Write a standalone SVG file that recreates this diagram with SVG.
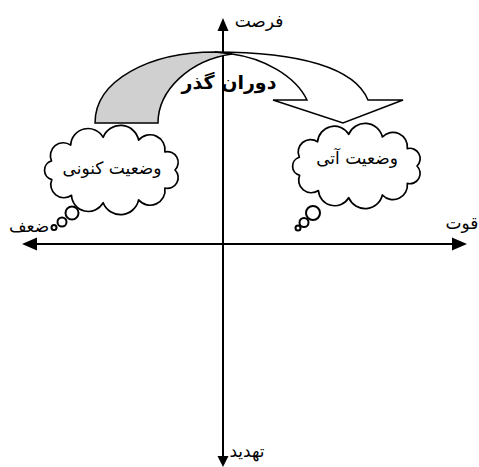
<svg xmlns="http://www.w3.org/2000/svg" width="479" height="467" viewBox="0 0 479 467">
<style>
.ax{stroke:#000;stroke-width:2;fill:none}
.ah{fill:#000;stroke:none}
.cl{fill:#fff;stroke:#000;stroke-width:1.7;stroke-linejoin:round}
.bb{fill:#fff;stroke:#000;stroke-width:2}
.ar{stroke:#000;stroke-width:1.5;stroke-linejoin:miter}
.t{font-family:"DejaVu Sans",sans-serif;font-size:17px;fill:#000;text-anchor:middle}
.tb{font-family:"DejaVu Sans",sans-serif;font-size:19px;font-weight:bold;fill:#000;text-anchor:middle}
</style>
<rect width="479" height="467" fill="#fff"/>
<g id="connectors">
<line class="ax" x1="223" y1="28" x2="223" y2="458"/>
<line class="ax" x1="34" y1="244" x2="455" y2="244"/>
<polygon class="ah" points="223,18 217.5,31 228.5,31"/>
<polygon class="ah" points="223,467 217.5,456 228.5,456"/>
<polygon class="ah" points="22,244 37,237.5 37,250.5"/>
<polygon class="ah" points="467,244 452,237.5 452,250.5"/>
</g>
<g id="transition">
<path class="ar" fill="#fff" d="M215,52 C300,52 355,68 368,100 L403,100 L343,123 L273,100 L307,100 C295,75 262,58 232,54 Z"/>
<path class="ar" fill="#d0d0d0" d="M95,123 C95,80 150,52 215,52 L232,54 C190,60 158,90 158,123 Z"/>
<text class="tb" x="229" y="89">دوران گذر</text>
</g>
<g id="current">
<path class="cl" d="M175,170 A10.7,10.7 0 0 1 164.9,188 A15,15 0 0 1 138.6,199.9 A18.5,18.5 0 0 1 103.2,202.7 A16.9,16.9 0 0 1 71.5,195.3 A13.1,13.1 0 0 1 51.8,179.6 A9.7,9.7 0 0 1 51.5,160.9 A12.9,12.9 0 0 1 70.7,145.1 A17.4,17.4 0 0 1 103.2,137.3 A18.5,18.5 0 0 1 138.6,140.1 A15,15 0 0 1 164.9,152 A10.7,10.7 0 0 1 175,170 Z"/>
<circle class="bb" cx="72" cy="213" r="6.5"/>
<circle class="bb" cx="62" cy="222" r="4.5"/>
<circle class="bb" cx="54" cy="227.5" r="2.5"/>
<text class="t" x="112" y="174">وضعیت کنونی</text>
</g>
<g id="future">
<path class="cl" d="M417,166 A10.3,10.3 0 0 1 407.3,183.4 A14.4,14.4 0 0 1 382.4,195 A17.8,17.8 0 0 1 348.7,197.7 A16.3,16.3 0 0 1 318.4,190.5 A12.6,12.6 0 0 1 299.6,175.3 A9.4,9.4 0 0 1 299.3,157.2 A12.4,12.4 0 0 1 317.6,141.8 A16.8,16.8 0 0 1 348.7,134.3 A17.8,17.8 0 0 1 382.4,137 A14.4,14.4 0 0 1 407.3,148.6 A10.3,10.3 0 0 1 417,166 Z"/>
<circle class="bb" cx="313" cy="213" r="7"/>
<circle class="bb" cx="304" cy="222.5" r="4.5"/>
<circle class="bb" cx="298" cy="228" r="2.5"/>
<text class="t" x="357" y="164">وضعیت آتی</text>
</g>
<g id="labels">
<text class="t" x="259" y="27">فرصت</text>
<text class="t" x="29" y="232">ضعف</text>
<text class="t" x="462" y="229">قوت</text>
<text class="t" x="247" y="457">تهدید</text>
</g>
</svg>
